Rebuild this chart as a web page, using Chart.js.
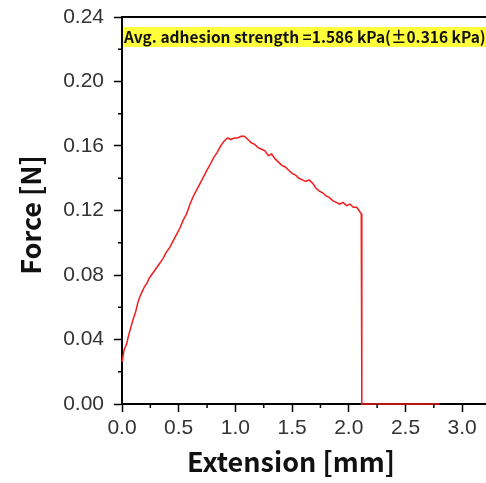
<!DOCTYPE html>
<html>
<head>
<meta charset="utf-8">
<script src="https://cdn.jsdelivr.net/npm/chart.js@4"></script>
<style>
  html, body { margin: 0; padding: 0; background: #fff; }
  #wrap { width: 486px; height: 483px; position: relative; }
</style>
</head>
<body>
<div id="wrap"><canvas id="forceChart"></canvas></div>
<script>
// extension [mm] and force [N]
const extension = [
  0.00, 0.02, 0.04, 0.06, 0.08, 0.10, 0.12, 0.14, 0.16, 0.18,
  0.20, 0.22, 0.24, 0.26, 0.28, 0.30, 0.33, 0.36, 0.39, 0.42,
  0.45, 0.48, 0.51, 0.54, 0.57, 0.60, 0.63, 0.66, 0.69, 0.72,
  0.75, 0.78, 0.81, 0.84, 0.87, 0.90, 0.93, 0.96, 0.99, 1.02,
  1.05, 1.08, 1.11, 1.14, 1.17, 1.20, 1.23, 1.26, 1.29, 1.32,
  1.35, 1.38, 1.41, 1.44, 1.47, 1.50, 1.53, 1.56, 1.59, 1.62,
  1.65, 1.68, 1.71, 1.74, 1.77, 1.80, 1.83, 1.86, 1.89, 1.92,
  1.95, 1.98, 2.01, 2.04, 2.07, 2.09, 2.11, 2.115, 2.80
];
const force = [
  0.026, 0.034, 0.037, 0.043, 0.048, 0.053, 0.057, 0.063, 0.067, 0.070,
  0.073, 0.075, 0.078, 0.080, 0.082, 0.084, 0.087, 0.090, 0.094, 0.097,
  0.101, 0.105, 0.109, 0.114, 0.118, 0.124, 0.129, 0.133, 0.137, 0.141,
  0.145, 0.149, 0.153, 0.156, 0.160, 0.163, 0.165, 0.164, 0.165, 0.165,
  0.166, 0.166, 0.164, 0.162, 0.161, 0.159, 0.158, 0.157, 0.154, 0.155,
  0.152, 0.150, 0.148, 0.147, 0.145, 0.143, 0.142, 0.140, 0.139, 0.138,
  0.139, 0.137, 0.134, 0.132, 0.131, 0.129, 0.128, 0.126, 0.125, 0.124,
  0.125, 0.123, 0.124, 0.122, 0.122, 0.120, 0.118, 0.000, 0.000
];

const xMajor = [0, 0.5, 1.0, 1.5, 2.0, 2.5, 3.0];
const xMinor = [0.25, 0.75, 1.25, 1.75, 2.25, 2.75];
const yMajor = [0, 0.04, 0.08, 0.12, 0.16, 0.20, 0.24];
const yMinor = [0.02, 0.06, 0.10, 0.14, 0.18, 0.22];

const noteText = "Avg. adhesion strength =1.586 kPa(\u00B10.316 kPa)";
const xTitle = "Extension [mm]";
const yTitle = "Force [N]";

const tickFont = { family: "'Liberation Sans', Arial, sans-serif", size: 21 };
const titleFont = "bold 27px 'Noto Sans CJK JP', 'Noto Sans', sans-serif";

const extras = {
  id: "extras",
  afterDraw(chart) {
    const { ctx, chartArea, scales } = chart;
    const x = scales.x, y = scales.y;
    ctx.save();
    ctx.strokeStyle = "#000";

    // top frame line
    ctx.lineWidth = 2;
    ctx.beginPath();
    ctx.moveTo(chartArea.left - 1, chartArea.top);
    ctx.lineTo(chart.width, chartArea.top);
    ctx.stroke();

    // minor ticks
    ctx.lineWidth = 1.5;
    yMinor.forEach(v => {
      const py = y.getPixelForValue(v);
      ctx.beginPath();
      ctx.moveTo(chartArea.left - 4, py);
      ctx.lineTo(chartArea.left, py);
      ctx.stroke();
    });
    xMinor.forEach(v => {
      const px = x.getPixelForValue(v);
      ctx.beginPath();
      ctx.moveTo(px, chartArea.bottom);
      ctx.lineTo(px, chartArea.bottom + 4);
      ctx.stroke();
    });

    // annotation box
    ctx.fillStyle = "#ffff3c";
    ctx.fillRect(chartArea.left + 1, 27, chart.width - chartArea.left - 1, 20);
    ctx.fillStyle = "#111";
    ctx.font = "bold 15.5px 'Noto Sans CJK JP', 'Noto Sans', sans-serif";
    ctx.textBaseline = "middle";
    ctx.textAlign = "left";
    ctx.fillText(noteText, chartArea.left + 2, 37);

    // axis titles
    ctx.font = titleFont;
    ctx.fillStyle = "#111";
    ctx.textAlign = "center";
    ctx.fillText(xTitle, 291, 462);
    ctx.translate(31, 215);
    ctx.rotate(-Math.PI / 2);
    ctx.fillText(yTitle, 0, 0);
    ctx.restore();
  }
};

new Chart(document.getElementById("forceChart"), {
  type: "line",
  data: {
    datasets: [{
      data: extension.map((e, i) => ({ x: e, y: force[i] })),
      borderColor: "#f41c1c",
      borderWidth: 1.5,
      pointRadius: 0,
      tension: 0,
      fill: false,
      clip: false
    }]
  },
  options: {
    responsive: true,
    maintainAspectRatio: false,
    animation: false,
    layout: { padding: { top: 17, right: 0 } },
    plugins: { legend: { display: false }, tooltip: { enabled: false } },
    scales: {
      x: {
        type: "linear",
        min: 0,
        max: 3.21,
        afterFit: s => { s.height = 79; s.paddingLeft = 0; s.paddingRight = 0; },
        afterBuildTicks: s => { s.ticks = xMajor.map(v => ({ value: v })); },
        border: { color: "#000", width: 2 },
        grid: { drawOnChartArea: false, tickLength: 8, tickColor: "#000", tickWidth: 1.5 },
        ticks: { color: "#333", font: tickFont, padding: 4, maxRotation: 0,
          callback: v => v.toFixed(1) }
      },
      y: {
        min: 0,
        max: 0.24,
        afterFit: s => { s.width = 122; s.paddingTop = 0; s.paddingBottom = 0; },
        afterBuildTicks: s => { s.ticks = yMajor.map(v => ({ value: v })); },
        border: { color: "#000", width: 2 },
        grid: { drawOnChartArea: false, tickLength: 8, tickColor: "#000", tickWidth: 1.5 },
        ticks: { color: "#333", font: tickFont, padding: 10,
          callback: v => v.toFixed(2) }
      }
    }
  },
  plugins: [extras]
});
</script>
</body>
</html>
